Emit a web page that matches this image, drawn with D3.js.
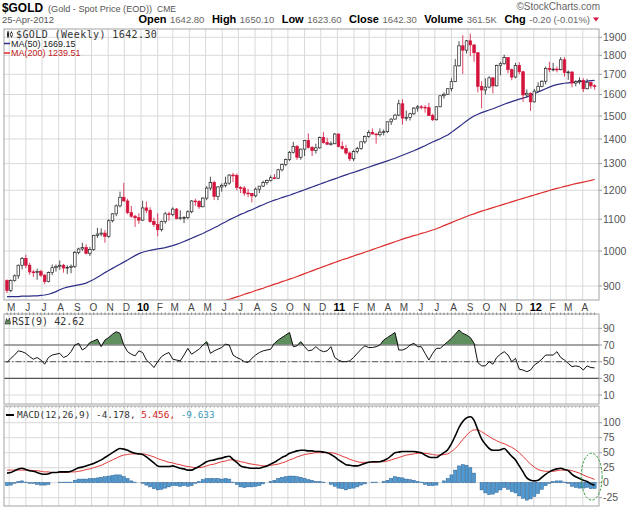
<!DOCTYPE html>
<html>
<head>
<meta charset="utf-8">
<title>$GOLD weekly</title>
<script src="https://cdn.jsdelivr.net/npm/d3@7"></script>
<style>
  body { margin: 0; background: #fff; }
  svg text { font-family: "Liberation Sans", Arial, sans-serif; }
  .mono { font-family: "DejaVu Sans Mono", monospace; }
  .grid line { stroke: #d9d9d9; stroke-width: 1; }
  .frame { fill: none; stroke: #a3a3a3; stroke-width: 1; }
  .rlab { font-size: 10.5px; fill: #555; }
</style>
</head>
<body>
<svg id="chart" width="640" height="512"></svg>
<script>
// weekly bars, Apr 27 2009 .. Apr 23 2012 (157 weeks)
var openP = [915,888,915,928,958,978,958,939,937,940,
  930,912,937,951,955,958,950,952,955,995,
  1006,1010,993,1004,1048,1052,1055,1045,1095,1118,
  1145,1175,1162,1122,1110,1105,1097,1138,1130,1093,
  1083,1066,1092,1118,1116,1134,1102,1105,1106,1125,
  1162,1160,1142,1172,1208,1228,1178,1212,1218,1226,
  1256,1254,1210,1208,1190,1189,1180,1204,1215,1228,
  1236,1246,1244,1276,1296,1316,1345,1369,1325,1358,
  1393,1365,1352,1363,1406,1385,1378,1380,1421,1369,
  1361,1342,1319,1348,1360,1388,1410,1428,1421,1418,
  1429,1431,1474,1486,1504,1556,1491,1493,1510,1536,
  1542,1540,1538,1502,1483,1542,1594,1601,1628,1663,
  1744,1852,1828,1880,1857,1814,1640,1622,1636,1682,
  1642,1746,1755,1788,1724,1686,1746,1713,1598,1606,
  1565,1616,1640,1665,1730,1725,1727,1724,1776,1710,
  1712,1656,1663,1669,1628,1660,1642.8]
var highP = [918,918,932,960,982,988,965,945,948,945,
  932,940,960,960,972,962,958,960,1000,1010,
  1025,1020,1012,1050,1072,1070,1065,1100,1120,1150,
  1195,1227,1170,1145,1115,1120,1163,1160,1140,1105,
  1120,1095,1125,1125,1140,1138,1130,1110,1130,1165,
  1170,1165,1175,1215,1250,1235,1215,1225,1250,1260,
  1265,1262,1215,1215,1205,1190,1210,1215,1235,1240,
  1255,1260,1280,1300,1320,1350,1388,1375,1360,1395,
  1424,1370,1380,1410,1430,1405,1390,1425,1423,1390,
  1375,1348,1355,1367,1390,1415,1437,1445,1425,1445,
  1440,1475,1490,1510,1575,1577,1525,1515,1540,1550,
  1550,1550,1560,1510,1545,1595,1610,1630,1680,1780,
  1877,1912,1885,1921,1860,1815,1665,1680,1690,1685,
  1750,1765,1803,1790,1730,1760,1763,1718,1625,1610,
  1627,1660,1670,1740,1765,1760,1740,1790,1790,1720,
  1715,1670,1685,1680,1677,1663,1650.1]
var lowP = [881,883,912,920,946,950,931,925,917,925,
  905,910,930,940,945,937,933,935,950,990,
  1000,990,985,1000,1040,1045,1025,1040,1090,1110,
  1140,1160,1117,1105,1075,1085,1094,1120,1088,1075,
  1045,1060,1085,1095,1110,1100,1098,1087,1100,1120,
  1145,1135,1140,1165,1200,1165,1165,1195,1210,1220,
  1230,1200,1190,1180,1175,1157,1175,1190,1212,1220,
  1232,1240,1242,1270,1290,1310,1340,1315,1315,1330,
  1360,1330,1340,1360,1380,1375,1372,1378,1365,1355,
  1335,1310,1310,1340,1355,1380,1405,1420,1380,1410,
  1415,1425,1460,1484,1500,1462,1478,1480,1505,1520,
  1530,1515,1500,1478,1480,1540,1580,1600,1615,1660,
  1740,1702,1810,1795,1765,1610,1535,1600,1630,1605,
  1640,1695,1750,1705,1670,1680,1700,1565,1585,1523,
  1562,1610,1635,1650,1710,1715,1710,1720,1688,1672,
  1635,1640,1650,1612,1625,1628,1623.6]
var closeP = [888,915,928,958,978,958,939,937,940,930,
  912,937,951,955,958,950,952,955,995,1006,
  1010,993,1004,1048,1052,1055,1045,1095,1118,1145,
  1175,1162,1122,1110,1105,1097,1138,1130,1093,1083,
  1066,1092,1118,1116,1134,1102,1105,1106,1125,1162,
  1160,1142,1172,1208,1228,1178,1212,1218,1226,1256,
  1254,1210,1208,1190,1189,1180,1204,1215,1228,1236,
  1246,1244,1276,1296,1316,1345,1369,1325,1358,1393,
  1365,1352,1363,1406,1385,1378,1380,1421,1369,1361,
  1342,1319,1348,1360,1388,1410,1428,1421,1418,1429,
  1431,1474,1486,1504,1556,1491,1493,1510,1536,1542,
  1540,1538,1502,1483,1542,1594,1601,1628,1663,1744,
  1852,1828,1880,1857,1814,1640,1622,1636,1682,1642,
  1746,1755,1788,1724,1686,1746,1713,1598,1606,1565,
  1616,1640,1665,1730,1725,1727,1724,1776,1710,1712,
  1656,1663,1669,1628,1660,1642,1642.3]

var ma50 = [872,872,872,872,873,873,873,874,874,875,
  876,878,881,885,890,894,897,899,901,903,
  905,908,913,918,924,930,937,943,949,955,
  961,967,973,980,986,992,996,999,1002,1004,
  1006,1008,1010,1013,1016,1020,1024,1029,1034,1039,
  1044,1049,1054,1060,1066,1072,1078,1085,1091,1098,
  1104,1110,1116,1121,1127,1132,1138,1144,1149,1155,
  1160,1165,1169,1174,1178,1182,1187,1192,1197,1202,
  1207,1212,1217,1222,1227,1232,1237,1242,1247,1252,
  1257,1262,1266,1271,1276,1281,1286,1291,1296,1301,
  1306,1311,1316,1321,1327,1333,1339,1345,1351,1358,
  1365,1372,1380,1387,1394,1401,1409,1417,1428,1440,
  1452,1465,1478,1490,1500,1508,1515,1521,1527,1533,
  1540,1547,1554,1560,1566,1572,1578,1583,1588,1596,
  1604,1612,1620,1628,1636,1643,1648,1652,1655,1657,
  1659,1661,1663,1665,1666,1668,1669.15]

// MA(200) only comes into view from week 56 on
var ma200From = 56
var ma200 = [856,859,862,865,868,871,874,878,881,884,
  888,891,894,898,901,905,908,912,915,919,
  922,926,930,934,938,942,946,950,954,958,
  962,966,970,974,977,981,985,989,992,996,
  1000,1004,1008,1012,1016,1020,1024,1028,1032,1036,
  1040,1043,1047,1050,1054,1057,1061,1065,1069,1074,
  1079,1084,1089,1094,1099,1104,1109,1114,1118,1123,
  1127,1131,1135,1139,1143,1147,1151,1155,1159,1163,
  1167,1171,1175,1179,1183,1187,1191,1195,1199,1203,
  1207,1210,1214,1217,1221,1224,1227,1230,1233,1236,
  1239.51]

var rsi9 = [49,54,58,63,62,60,56,53,55,52,
  47,55,58,59,60,55,57,62,70,72,
  64,67,73,75,77,68,76,79,83,86,
  84,70,62,59,57,63,61,52,48,43,
  50,56,59,61,53,52,51,58,66,59,
  62,65,70,74,60,63,65,67,71,70,
  58,55,53,50,49,54,58,61,63,64,
  65,72,76,79,82,85,68,69,74,68,
  63,64,68,64,62,63,68,55,52,50,
  50,51,55,60,65,69,67,67,68,70,
  76,79,82,85,64,64,66,70,72,68,
  68,60,52,60,66,66,70,74,78,83,
  88,84,82,79,72,49,45,45,50,47,
  55,59,62,58,50,54,41,40,38,40,
  46,49,53,58,58,58,62,55,52,48,
  44,45,44,40,45,43,42.62]

var macdLine = [16,17,20,23,24,22,20,19,17,15,
  14,15,17,17,18,18,18,19,22,25,
  26,28,30,32,35,38,42,46,50,54,
  57,56,54,51,49,48,47,43,38,33,
  28,27,27,27,28,26,24,23,21,21,
  24,27,31,35,37,38,40,41,43,44,
  39,34,28,26,25,24,24,24,26,28,
  31,34,38,42,45,49,51,53,54,54,
  53,53,52,52,51,50,47,43,38,34,
  30,29,28,28,30,32,34,35,35,35,
  37,40,45,50,51,52,52,52,52,51,
  50,46,43,42,42,46,50,55,65,78,
  92,102,108,110,104,88,73,64,57,54,
  54,55,57,51,44,38,28,18,8,4,
  3,4,9,14,18,21,23,24,22,20,
  14,10,7,4,2,-2,-4.178]
var signalLine = [21,21,21,21,21,21,21,20,20,19,
  18,18,17,17,17,17,17,18,18,19,
  20,22,23,25,27,29,32,35,38,41,
  44,46,47,48,48,48,48,47,45,43,
  40,38,36,34,33,31,30,28,27,26,
  25,25,26,28,30,31,33,35,36,38,
  38,37,35,34,32,31,30,29,28,28,
  29,30,31,33,35,38,40,43,45,47,
  48,49,50,50,50,50,50,49,47,44,
  42,39,37,35,34,34,34,34,34,35,
  35,36,38,40,42,44,46,47,48,49,
  49,49,48,47,46,46,47,48,52,57,
  64,72,79,85,88,88,85,81,77,73,
  70,67,65,62,59,55,50,44,37,31,
  26,22,20,19,19,19,20,21,21,21,
  20,18,16,13,10,8,5.456]

var monthLetters = ["J","F","M","A","M","J","J","A","S","O","N","D"]
var priceTicks = [900,1000,1100,1200,1300,1400,1500,1600,1700,1800,1900]
var rsiTicks = [10,30,50,70,90]
var macdTicks = [-25,0,25,50,75,100]

var quote = [["Open","1642.80"],["High","1650.10"],["Low","1623.60"],
             ["Close","1642.30"],["Volume","361.5K"],["Chg","-0.20 (-0.01%)"]]

var weeks = d3.timeMonday.range(new Date(2009,3,27), new Date(2012,3,24))
var months = d3.timeMonth.range(new Date(2009,4,1), new Date(2012,4,1))

var bars = weeks.map(function(d, i) {
  return { date: d, o: openP[i], h: highP[i], l: lowP[i], c: closeP[i],
    ma50: ma50[i], ma200: i >= ma200From ? ma200[i - ma200From] : null,
    rsi: rsi9[i], macd: macdLine[i], sig: signalLine[i],
    hist: macdLine[i] - signalLine[i] }
})

var P = { l: 4, r: 599, t: 29, b: 300 }   // price
var R = { t: 314, b: 404 }                // rsi
var M = { t: 406, b: 506 }                // macd

var x = d3.scaleTime()
  .domain([new Date(2010,0,1), new Date(2012,0,1)])
  .range([141, 533.8])
var y = d3.scaleLog().domain([863, 1948]).range([P.b, P.t])
var yR = d3.scaleLinear().domain([0, 100]).range([403.4, 320])
var yM = d3.scaleLinear().domain([0, 100]).range([482.7, 422.7])

var red = "#d4143c", navy = "#2e2e88"
var svg = d3.select("#chart")

function panel(id, top, bottom, scale, ticks) {
  svg.append("clipPath").attr("id", id)
    .append("rect").attr("x", P.l).attr("y", top)
    .attr("width", P.r - P.l).attr("height", bottom - top)
  var grid = svg.append("g").attr("class", "grid")
  grid.selectAll("line.v").data(months).join("line").attr("class", "v")
    .attr("x1", function(d) { return x(d) }).attr("x2", function(d) { return x(d) })
    .attr("y1", top).attr("y2", bottom)
  grid.selectAll("line.h").data(ticks).join("line").attr("class", "h")
    .attr("x1", P.l).attr("x2", P.r)
    .attr("y1", function(d) { return scale(d) }).attr("y2", function(d) { return scale(d) })
  // right axis
  var ax = svg.append("g")
  ax.selectAll("line").data(ticks).join("line")
    .attr("x1", P.r).attr("x2", P.r + 3)
    .attr("y1", function(d) { return scale(d) }).attr("y2", function(d) { return scale(d) })
    .attr("stroke", "#999")
  ax.selectAll("text").data(ticks).join("text").attr("class", "rlab")
    .attr("x", P.r + 4).attr("y", function(d) { return scale(d) }).attr("dy", "0.36em")
    .text(function(d) { return d })
  return svg.append("g").attr("clip-path", "url(#" + id + ")")
}

// ---------- header ----------
svg.append("text").attr("x", 2).attr("y", 12).attr("font-size", 12)
  .attr("font-weight", "bold").attr("textLength", 41).attr("lengthAdjust", "spacingAndGlyphs")
  .text("$GOLD")
svg.append("text").attr("x", 48).attr("y", 12).attr("font-size", 9.5).attr("fill", "#555")
  .attr("textLength", 104).attr("lengthAdjust", "spacingAndGlyphs")
  .text("(Gold - Spot Price (EOD))")
svg.append("text").attr("x", 157).attr("y", 12).attr("font-size", 8.5).attr("fill", "#555")
  .text("CME")
svg.append("text").attr("x", 600).attr("y", 10).attr("font-size", 10).attr("fill", "#666")
  .attr("text-anchor", "end").text("\u00a9StockCharts.com")
svg.append("text").attr("x", 2).attr("y", 23.3).attr("font-size", 9.5).attr("fill", "#555")
  .attr("textLength", 52).attr("lengthAdjust", "spacingAndGlyphs")
  .text("25-Apr-2012")

var qt = svg.append("text").attr("x", 590).attr("y", 22.5).attr("text-anchor", "end")
quote.forEach(function(q, i) {
  qt.append("tspan").attr("dx", i ? 7.5 : 0).attr("font-size", 11).attr("font-weight", "bold")
    .text(q[0])
  qt.append("tspan").attr("dx", 3.5).attr("font-size", 9.5).attr("fill", "#666").text(q[1])
})
svg.append("path").attr("d", "M593,17.5 L599,17.5 L596,21.5 Z").attr("fill", red)

// ---------- price panel ----------
var pg = panel("clipP", P.t, P.b, y, priceTicks)

pg.append("path").datum(bars)
  .attr("fill", "none").attr("stroke", "#dd2a2a").attr("stroke-width", 1.2)
  .attr("d", d3.line().defined(function(d) { return d.ma200 != null })
    .x(function(d) { return x(d.date) }).y(function(d) { return y(d.ma200) }))
pg.append("path").datum(bars)
  .attr("fill", "none").attr("stroke", navy).attr("stroke-width", 1.2)
  .attr("d", d3.line().x(function(d) { return x(d.date) }).y(function(d) { return y(d.ma50) }))

var cw = 2.6
pg.selectAll("line.wick").data(bars).join("line").attr("class", "wick")
  .attr("x1", function(d) { return x(d.date) }).attr("x2", function(d) { return x(d.date) })
  .attr("y1", function(d) { return y(d.h) }).attr("y2", function(d) { return y(d.l) })
  .attr("stroke", function(d) { return d.c < d.o ? red : "#222" }).attr("stroke-width", 0.8)
pg.selectAll("rect.body").data(bars).join("rect").attr("class", "body")
  .attr("x", function(d) { return x(d.date) - cw / 2 }).attr("width", cw)
  .attr("y", function(d) { return y(Math.max(d.o, d.c)) })
  .attr("height", function(d) { return Math.max(0.8, Math.abs(y(d.o) - y(d.c))) })
  .attr("fill", function(d) { return d.c < d.o ? red : "#fff" })
  .attr("stroke", function(d) { return d.c < d.o ? red : "#222" }).attr("stroke-width", 0.7)

svg.append("rect").attr("class", "frame").attr("x", P.l).attr("y", P.t)
  .attr("width", P.r - P.l).attr("height", P.b - P.t)

// legend
var lg = svg.append("g")
lg.append("line").attr("x1", 8).attr("x2", 8).attr("y1", 31).attr("y2", 38).attr("stroke", "#222")
lg.append("rect").attr("x", 7).attr("y", 32.5).attr("width", 2).attr("height", 4).attr("fill", "#222")
lg.append("line").attr("x1", 11.5).attr("x2", 11.5).attr("y1", 31.5).attr("y2", 37.5).attr("stroke", "#222")
lg.append("rect").attr("x", 10.5).attr("y", 33).attr("width", 2).attr("height", 3).attr("fill", "#fff").attr("stroke", "#222").attr("stroke-width", 0.6)
lg.append("text").attr("class", "mono").attr("x", 16).attr("y", 37.5).attr("font-size", 10)
  .attr("fill", "#333").attr("letter-spacing", 0.4).text("$GOLD (Weekly) 1642.30")
lg.append("line").attr("x1", 4).attr("x2", 10).attr("y1", 43.5).attr("y2", 43.5).attr("stroke", navy).attr("stroke-width", 1.5)
lg.append("text").attr("x", 11).attr("y", 46.5).attr("font-size", 9).attr("fill", "#222")
  .text("MA(50) 1669.15")
lg.append("line").attr("x1", 4).attr("x2", 10).attr("y1", 53).attr("y2", 53).attr("stroke", "#dd2a2a").attr("stroke-width", 1.5)
lg.append("text").attr("x", 11).attr("y", 56).attr("font-size", 9).attr("fill", "#c02020")
  .text("MA(200) 1239.51")

// month labels
svg.append("g").selectAll("text").data(months).join("text")
  .attr("x", function(d) { return x(d) + 2 }).attr("y", 311)
  .attr("text-anchor", "middle")
  .attr("font-size", function(d) { return d.getMonth() === 0 ? 11 : 10 })
  .attr("font-weight", function(d) { return d.getMonth() === 0 ? "bold" : "normal" })
  .attr("fill", function(d) { return d.getMonth() === 0 ? "#000" : "#444" })
  .text(function(d) {
    return d.getMonth() === 0 ? String(d.getFullYear()).slice(2) : monthLetters[d.getMonth()]
  })

// ---------- RSI panel ----------
var rg = panel("clipR", R.t, R.b, yR, rsiTicks)
rg.append("path").datum(bars).attr("fill", "#5f8f5f")
  .attr("d", d3.area().x(function(d) { return x(d.date) })
    .y0(yR(70)).y1(function(d) { return yR(Math.max(70, d.rsi)) }))
rg.append("line").attr("x1", P.l).attr("x2", P.r).attr("y1", yR(70)).attr("y2", yR(70))
  .attr("stroke", "#8c8c8c").attr("stroke-width", 1.5)
rg.append("line").attr("x1", P.l).attr("x2", P.r).attr("y1", yR(30)).attr("y2", yR(30))
  .attr("stroke", "#555").attr("stroke-width", 1.2)
rg.append("line").attr("x1", P.l).attr("x2", P.r).attr("y1", yR(50)).attr("y2", yR(50))
  .attr("stroke", "#333").attr("stroke-width", 0.8).attr("stroke-dasharray", "6,2,1.5,2")
rg.append("path").datum(bars).attr("fill", "none").attr("stroke", "#111").attr("stroke-width", 1)
  .attr("d", d3.line().x(function(d) { return x(d.date) }).y(function(d) { return yR(d.rsi) }))
svg.append("rect").attr("class", "frame").attr("x", P.l).attr("y", R.t)
  .attr("width", P.r - P.l).attr("height", R.b - R.t)
svg.append("g").selectAll("line").data(weeks).join("line")
  .attr("x1", function(d) { return x(d) }).attr("x2", function(d) { return x(d) })
  .attr("y1", R.t - 1.5).attr("y2", R.t + 1).attr("stroke", "#777").attr("stroke-width", 0.8)
svg.append("path").attr("d", "M5,324 L6.5,318.5 L8,321.5 L9.5,318 L10.5,324 Z").attr("fill", "#5f8f5f").attr("stroke", "#222").attr("stroke-width", 0.6)
svg.append("text").attr("class", "mono").attr("x", 12).attr("y", 324.5).attr("font-size", 10)
  .attr("fill", "#333").text("RSI(9) 42.62")

// ---------- MACD panel ----------
var mg = panel("clipM", M.t, M.b, yM, macdTicks)
var bw = 3.1
mg.selectAll("rect.hist").data(bars).join("rect").attr("class", "hist")
  .attr("x", function(d) { return x(d.date) - bw / 2 }).attr("width", bw)
  .attr("y", function(d) { return yM(Math.max(0, d.hist)) })
  .attr("height", function(d) { return Math.abs(yM(d.hist) - yM(0)) })
  .attr("fill", "#4f9ad2").attr("stroke", "#2a5f90").attr("stroke-width", 0.5)
mg.append("path").datum(bars).attr("fill", "none").attr("stroke", "#e23a3a").attr("stroke-width", 1)
  .attr("d", d3.line().curve(d3.curveMonotoneX).x(function(d) { return x(d.date) }).y(function(d) { return yM(d.sig) }))
mg.append("path").datum(bars).attr("fill", "none").attr("stroke", "#000").attr("stroke-width", 1.6)
  .attr("d", d3.line().curve(d3.curveMonotoneX).x(function(d) { return x(d.date) }).y(function(d) { return yM(d.macd) }))
svg.append("rect").attr("class", "frame").attr("x", P.l).attr("y", M.t)
  .attr("width", P.r - P.l).attr("height", M.b - M.t)
svg.append("g").selectAll("line").data(weeks).join("line")
  .attr("x1", function(d) { return x(d) }).attr("x2", function(d) { return x(d) })
  .attr("y1", M.t).attr("y2", M.t + 2).attr("stroke", "#999").attr("stroke-width", 0.6)

svg.append("line").attr("x1", 6).attr("x2", 14).attr("y1", 415).attr("y2", 415)
  .attr("stroke", "#000").attr("stroke-width", 2)
var mt = svg.append("text").attr("class", "mono").attr("x", 17).attr("y", 418).attr("font-size", 9.4)
mt.append("tspan").attr("fill", "#333").text("MACD(12,26,9) -4.178, ")
mt.append("tspan").attr("fill", "#d02020").text("5.456, ")
mt.append("tspan").attr("fill", "#3a9ab8").text("-9.633")

// green ring round the last MACD weeks
var ring = { from: new Date(2012,2,29), to: new Date(2012,4,7), lo: -29, hi: 49 }
svg.append("ellipse")
  .attr("cx", (x(ring.from) + x(ring.to)) / 2).attr("cy", (yM(ring.lo) + yM(ring.hi)) / 2)
  .attr("rx", (x(ring.to) - x(ring.from)) / 2).attr("ry", (yM(ring.lo) - yM(ring.hi)) / 2)
  .attr("fill", "none").attr("stroke", "#2f9a3a").attr("stroke-width", 1)
  .attr("stroke-dasharray", "2.5,1.5")
</script>
</body>
</html>
